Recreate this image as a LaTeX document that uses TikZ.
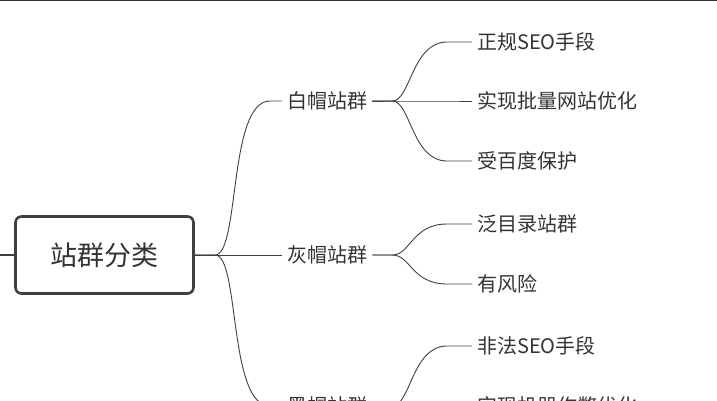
\documentclass[tikz,border=0pt]{standalone}
\usepackage{fontspec}
\setmainfont{Noto Sans CJK SC}
\begin{document}
\begin{tikzpicture}[x=1pt,y=-1pt,
  conn/.style={draw=black!75,line width=0.9pt},
  leaf/.style={anchor=west,inner sep=5pt,font=\fontsize{20}{24}\selectfont,text=black!80},
  br/.style={anchor=west,inner sep=5pt,font=\fontsize{20}{24}\selectfont,text=black!80}]
\useasboundingbox (0,0) rectangle (717,400);
\clip (0,0) rectangle (717,400);
\draw[black!80,line width=0.8pt] (0,0.5) -- (717,0.5);
\node[draw=black!75,line width=2.6pt,rounded corners=6pt,minimum width=178pt,minimum height=77pt,font=\fontsize{27}{32}\selectfont,text=black!80] (root) at (104.5,255) {站群分类};
\coordinate (lft) at (0,255);
\draw[conn,line width=2.6pt] (lft) -- (root.west);
\node[br] (w) at (282,101) {白帽站群};
\node[br] (g) at (282,255) {灰帽站群};
\node[br] (b) at (282,406) {黑帽站群};
\draw[conn] (root.east) -- (g.west);
\draw[conn] (root.east) -- (215,255) .. controls (240,255) and (228,101) .. (270,101) -- (w.west);
\draw[conn] (root.east) -- (215,255) .. controls (240,255) and (228,406) .. (270,406) -- (b.west);
\node[leaf] (w1) at (472,42) {正规SEO手段};
\node[leaf] (w2) at (472,101) {实现批量网站优化};
\node[leaf] (w3) at (472,161) {受百度保护};
\node[leaf] (g1) at (472,224) {泛目录站群};
\node[leaf] (g2) at (472,284) {有风险};
\node[leaf] (b1) at (472,346) {非法SEO手段};
\node[leaf] (b2) at (472,406) {实现机器作弊优化};
\foreach \p/\c in {w/w1,w/w2,w/w3,g/g1,g/g2,b/b1,b/b2}{
  \draw[conn] (\p.east) -- ([xshift=20pt]\p.east) .. controls ([xshift=38pt]\p.east) and ([xshift=-60pt]\c.west) .. ([xshift=-25pt]\c.west) -- (\c.west);
}
\end{tikzpicture}
\end{document}
